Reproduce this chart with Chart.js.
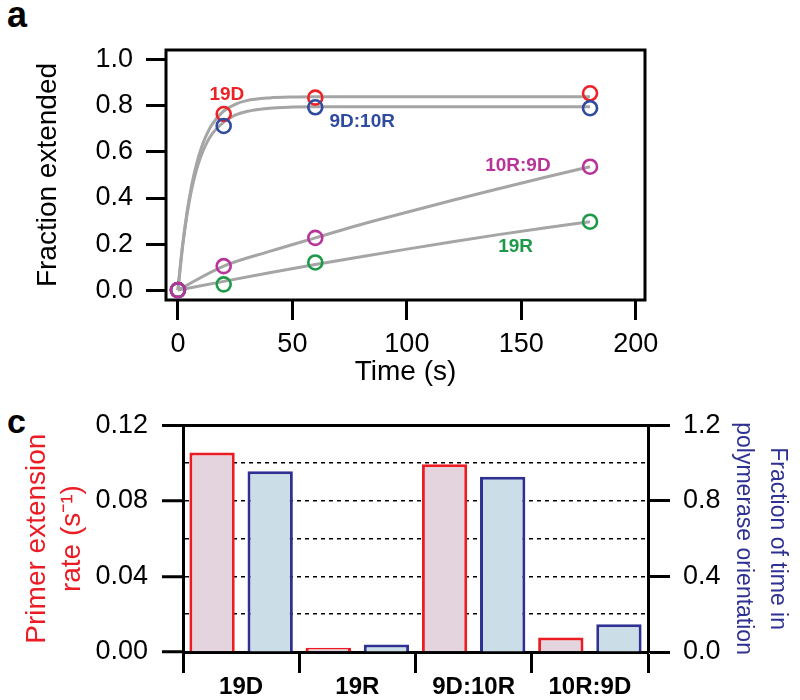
<!DOCTYPE html>
<html>
<head>
<meta charset="utf-8">
<script src="https://cdn.jsdelivr.net/npm/chart.js@4.4.0/dist/chart.umd.min.js"></script>
<style>
  html, body { margin: 0; padding: 0; background: #fff; }
  body { width: 800px; height: 700px; position: relative; overflow: hidden; }
  canvas { position: absolute; left: 0; }
  #kinetics { top: 0; }
  #rates { top: 395px; }
  .panel { position: absolute; font: bold 36px/36px "Liberation Sans", Arial, sans-serif; color: #000; }
</style>
</head>
<body>
<div class="panel" style="left:7px;top:-3px">a</div>
<div class="panel" style="left:7px;top:403px;font-size:34px">c</div>
<canvas id="kinetics" width="800" height="395"></canvas>
<canvas id="rates" width="800" height="305"></canvas>
<script>
// panel a : measured points
const timePoints = [0, 20, 60, 180];
const points19D = [0, 0.765, 0.836, 0.855];
const points19R = [0, 0.025, 0.12, 0.297];
const points9D10R = [0, 0.713, 0.794, 0.79];
const points10R9D = [0, 0.104, 0.227, 0.536];

// panel a : fitted curves
const fitTimesFast = [0, 2, 4, 6, 8, 10, 12, 15, 20, 25, 30, 40, 50, 60, 180];
const fit19D = [0, 0.192, 0.340, 0.455, 0.543, 0.611, 0.663, 0.721, 0.778, 0.807, 0.823, 0.835, 0.839, 0.84, 0.84];
const fit9D10R = [0, 0.185, 0.328, 0.437, 0.518, 0.58, 0.628, 0.68, 0.73, 0.76, 0.776, 0.79, 0.795, 0.797, 0.797];
const fitTimesSlow = [0, 20, 40, 60, 80, 100, 120, 140, 160, 180];
const fit10R9D = [0, 0.104, 0.168, 0.227, 0.285, 0.338, 0.39, 0.44, 0.489, 0.536];
const fit19R = [0, 0.038, 0.075, 0.111, 0.145, 0.178, 0.210, 0.241, 0.270, 0.297];

const xTicksStep = 50;
const yTicksStep = 0.2;

// panel c
const constructs = ['19D', '19R', '9D:10R', '10R:9D'];
const extensionRate = [0.1055, 0.0023, 0.0994, 0.0077];
const polymeraseFraction = [0.957, 0.04, 0.927, 0.147];

const RED = '#ec2227';
const BLUE = '#2f4b9f';
const MAGENTA = '#b8349a';
const GREEN = '#1d9a48';
const NAVY = '#2e3192';
const GREY = '#a5a5a5';

// curve name labels (text, data position, colour)
const curveLabels = [
    { text: '19D', at: [21.4, 0.848], color: RED },
    { text: '9D:10R', at: [80.5, 0.732], color: BLUE },
    { text: '10R:9D', at: [148.5, 0.539], color: MAGENTA },
    { text: '19R', at: [147.5, 0.188], color: GREEN }
];

Chart.defaults.font.family = '"Liberation Sans", Arial, sans-serif';
Chart.defaults.color = '#000';

function toXY(xs, ys) {
    return xs.map((x, i) => ({ x: x, y: ys[i] }));
}

function pointSet(ys, color) {
    return {
        data: toXY(timePoints, ys),
        borderColor: color,
        backgroundColor: 'rgba(0,0,0,0)',
        pointRadius: 7,
        pointBorderWidth: 2.6,
        clip: false
    };
}

function curveSet(xs, ys) {
    return {
        data: toXY(xs, ys),
        showLine: true,
        borderColor: GREY,
        borderWidth: 3,
        pointRadius: 0,
        cubicInterpolationMode: 'monotone'
    };
}

// box around the plot area
const frameBox = {
    id: 'frameBox',
    beforeDatasetsDraw(chart) {
        const { ctx, chartArea: a } = chart;
        ctx.save();
        ctx.lineWidth = 3;
        ctx.strokeStyle = '#000';
        ctx.strokeRect(a.left, a.top, a.right - a.left, a.bottom - a.top);
        ctx.restore();
    }
};

const nameLabels = {
    id: 'nameLabels',
    afterDatasetsDraw(chart) {
        const { ctx, scales: { x, y } } = chart;
        ctx.save();
        ctx.font = 'bold 19px "Liberation Sans", Arial, sans-serif';
        ctx.textAlign = 'center';
        ctx.textBaseline = 'middle';
        curveLabels.forEach(l => {
            ctx.fillStyle = l.color;
            ctx.fillText(l.text, x.getPixelForValue(l.at[0]), y.getPixelForValue(l.at[1]));
        });
        ctx.restore();
    }
};

new Chart(document.getElementById('kinetics'), {
    type: 'scatter',
    data: {
        datasets: [
            pointSet(points10R9D, MAGENTA),
            pointSet(points9D10R, BLUE),
            pointSet(points19R, GREEN),
            pointSet(points19D, RED),
            curveSet(fitTimesFast, fit19D),
            curveSet(fitTimesFast, fit9D10R),
            curveSet(fitTimesSlow, fit10R9D),
            curveSet(fitTimesSlow, fit19R)
        ]
    },
    options: {
        responsive: false,
        animation: false,
        layout: { padding: { top: 50, right: 155, left: 0, bottom: 0 } },
        plugins: { legend: { display: false }, tooltip: { enabled: false } },
        scales: {
            x: {
                type: 'linear',
                min: -5.2,
                max: 204,
                afterFit: s => { s.height = 95; },
                border: { display: false },
                grid: { drawOnChartArea: false, tickLength: 20, tickWidth: 3, tickColor: '#000' },
                ticks: {
                    stepSize: xTicksStep,
                    includeBounds: false,
                    padding: 8,
                    font: { size: 27 },
                    maxRotation: 0
                },
                title: { display: true, text: 'Time (s)', font: { size: 28 }, padding: { bottom: 6 } }
            },
            y: {
                min: -0.043,
                max: 1.043,
                afterFit: s => { s.width = 166; },
                border: { display: false },
                grid: { drawOnChartArea: false, tickLength: 20, tickWidth: 3, tickColor: '#000' },
                ticks: {
                    stepSize: yTicksStep,
                    includeBounds: false,
                    padding: 13,
                    font: { size: 27 },
                    callback: v => v.toFixed(1)
                },
                title: { display: true, text: 'Fraction extended', font: { size: 28 }, padding: { top: 31 } }
            }
        }
    },
    plugins: [frameBox, nameLabels]
});

new Chart(document.getElementById('rates'), {
    type: 'bar',
    data: {
        labels: constructs,
        datasets: [
            {
                data: extensionRate,
                yAxisID: 'y',
                backgroundColor: '#e4d4dd',
                borderColor: '#ec1c24',
                borderWidth: 3,
                categoryPercentage: 1.0,
                barPercentage: 0.78
            },
            {
                data: polymeraseFraction,
                yAxisID: 'y1',
                backgroundColor: '#cbdde7',
                borderColor: NAVY,
                borderWidth: 3,
                categoryPercentage: 1.0,
                barPercentage: 0.78
            }
        ]
    },
    options: {
        responsive: false,
        animation: false,
        layout: { padding: { top: 28 } },
        plugins: { legend: { display: false }, tooltip: { enabled: false } },
        scales: {
            x: {
                afterFit: s => { s.height = 48; },
                border: { display: true, width: 3, color: '#000' },
                grid: { offset: true, drawOnChartArea: false, tickLength: 21, tickWidth: 3, tickColor: '#000' },
                ticks: { padding: 0, font: { size: 24, weight: 'bold' }, maxRotation: 0 }
            },
            y: {
                position: 'left',
                min: 0,
                max: 0.12,
                afterFit: s => { s.width = 183; },
                border: { display: true, width: 3, color: '#000', dash: c => c.index === 6 ? [] : [4, 4] },
                grid: {
                    color: c => c.index === 0 ? 'rgba(0,0,0,0)' : '#000',
                    lineWidth: c => c.index === 6 ? 3 : 1.5,
                    tickColor: c => c.index % 2 === 0 ? '#000' : 'rgba(0,0,0,0)',
                    tickWidth: 3,
                    tickLength: 21
                },
                ticks: {
                    stepSize: 0.02,
                    padding: 14,
                    autoSkip: false,
                    font: { size: 27 },
                    callback: (v, i) => i % 2 === 0 ? v.toFixed(2) : ''
                },
                title: {
                    display: true,
                    text: ['Primer extension', 'rate (s\u207B\u00B9)'],
                    color: '#ec1c24',
                    font: { size: 28, lineHeight: 1.28 },
                    padding: { top: 19 }
                }
            },
            y1: {
                position: 'right',
                min: 0,
                max: 1.2,
                afterFit: s => { s.width = 152; },
                border: { display: true, width: 3, color: '#000' },
                grid: { drawOnChartArea: false, tickLength: 22, tickWidth: 3, tickColor: '#000' },
                ticks: { stepSize: 0.4, padding: 13, font: { size: 27 }, callback: v => v.toFixed(1) },
                title: {
                    display: true,
                    text: ['Fraction of time in', 'polymerase orientation'],
                    color: NAVY,
                    font: { size: 23, lineHeight: 1.48 },
                    padding: { top: 6 }
                }
            }
        }
    }
});
</script>
</body>
</html>
